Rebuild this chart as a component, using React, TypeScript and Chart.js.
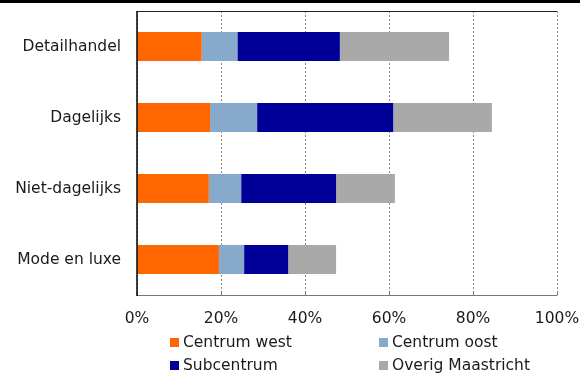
import React, { useEffect, useRef } from "react";
import { Chart, registerables } from "chart.js";

Chart.register(...registerables);

const categories = ["Detailhandel", "Dagelijks", "Niet-dagelijks", "Mode en luxe"];
const seriesNames = ["Centrum west", "Centrum oost", "Subcentrum", "Overig Maastricht"];
const centrumWest = [15.4, 17.4, 17.1, 19.5];
const centrumOost = [8.5, 11.2, 7.7, 6.0];
const subcentrum = [24.4, 32.4, 22.6, 10.5];
const overigMaastricht = [26.0, 23.5, 14.0, 11.4];
const xTicks = [0, 20, 40, 60, 80, 100];
const colors = ["#FF6600", "#87A9CB", "#000099", "#A9A9A9"];

const FONT = "'DejaVu Sans', Verdana, sans-serif";

export default function App() {
  const ref = useRef<HTMLCanvasElement | null>(null);

  useEffect(() => {
    document.body.style.margin = "0";
    const canvas = ref.current;
    if (!canvas) return;
    const values = [centrumWest, centrumOost, subcentrum, overigMaastricht];

    const decor = {
      id: "decor",
      beforeDraw(chart: any) {
        const ctx = chart.ctx;
        ctx.save();
        ctx.fillStyle = "#fff";
        ctx.fillRect(0, 0, chart.width, chart.height);
        ctx.restore();
      },
      afterDraw(chart: any) {
        const ctx = chart.ctx;
        const a = chart.chartArea;
        ctx.save();
        // top black band
        ctx.fillStyle = "#000";
        ctx.fillRect(0, 0, chart.width, 3);
        // top frame line
        ctx.lineWidth = 1;
        ctx.strokeStyle = "#222";
        ctx.beginPath();
        ctx.moveTo(a.left, Math.round(a.top) + 0.5);
        ctx.lineTo(a.right, Math.round(a.top) + 0.5);
        ctx.stroke();
        // bottom axis line (solid)
        ctx.strokeStyle = "#777";
        ctx.beginPath();
        ctx.moveTo(a.left, Math.round(a.bottom) + 0.5);
        ctx.lineTo(a.right + 0.5, Math.round(a.bottom) + 0.5);
        ctx.stroke();
        // small inner tick marks on x axis
        const xs = chart.scales.x;
        xTicks.forEach((v) => {
          const px = Math.round(xs.getPixelForValue(v)) + 0.5;
          ctx.beginPath();
          ctx.moveTo(px, a.bottom - 4);
          ctx.lineTo(px, a.bottom);
          ctx.stroke();
        });
        // left axis line
        ctx.strokeStyle = "#000";
        ctx.lineWidth = 1.5;
        ctx.beginPath();
        ctx.moveTo(a.left, a.top);
        ctx.lineTo(a.left, a.bottom + 1);
        ctx.stroke();
        // legend (two columns)
        ctx.font = "15.5px " + FONT;
        ctx.textBaseline = "middle";
        ctx.textAlign = "left";
        const cols = [170, 379];
        const rows = [338, 361];
        chart.data.datasets.forEach((ds: any, i: number) => {
          const x = cols[i % 2];
          const y = rows[Math.floor(i / 2)];
          ctx.fillStyle = ds.backgroundColor;
          ctx.fillRect(x, y, 9, 9);
          ctx.fillStyle = "#1a1a1a";
          ctx.fillText(ds.label, x + 13, y + 5);
        });
        ctx.restore();
      },
    };

    const chart = new Chart(canvas, {
      type: "bar",
      data: {
        labels: categories,
        datasets: seriesNames.map((name, i) => ({
          label: name,
          data: values[i],
          backgroundColor: colors[i],
          borderWidth: 0,
          categoryPercentage: 1,
          barPercentage: 0.41,
        })),
      },
      options: {
        indexAxis: "y",
        animation: false,
        responsive: false,
        maintainAspectRatio: false,
        layout: { padding: { top: 11, right: 23, left: 0, bottom: 0 } },
        plugins: {
          legend: { display: false },
          tooltip: { enabled: false },
        },
        scales: {
          x: {
            stacked: true,
            min: 0,
            max: 100,
            afterBuildTicks(scale: any) {
              scale.ticks = xTicks.map((v) => ({ value: v }));
            },
            afterFit(scale: any) {
              scale.height = 79;
              scale.paddingLeft = 0;
              scale.paddingRight = 0;
              scale.paddingTop = 0;
              scale.paddingBottom = 0;
            },
            ticks: {
              callback: (v: any) => v + "%",
              color: "#1a1a1a",
              font: { family: FONT, size: 15.5 },
              padding: 15,
              maxRotation: 0,
            },
            grid: {
              color: "#888",
              lineWidth: 1,
              drawTicks: false,
              tickLength: 0,
            },
            border: { display: false, dash: [2, 2] },
          },
          y: {
            stacked: true,
            afterFit(scale: any) {
              scale.width = 137;
              scale.paddingLeft = 0;
              scale.paddingRight = 0;
              scale.paddingTop = 0;
              scale.paddingBottom = 0;
            },
            ticks: {
              color: "#1a1a1a",
              font: { family: FONT, size: 15.5 },
              padding: 16,
            },
            grid: { display: false, drawTicks: false },
            border: { display: false },
          },
        },
      } as any,
      plugins: [decor],
    });

    return () => chart.destroy();
  }, []);

  return (
    <div style={{ width: 580, height: 374 }}>
      <canvas ref={ref} width={580} height={374} style={{ display: "block" }} />
    </div>
  );
}
